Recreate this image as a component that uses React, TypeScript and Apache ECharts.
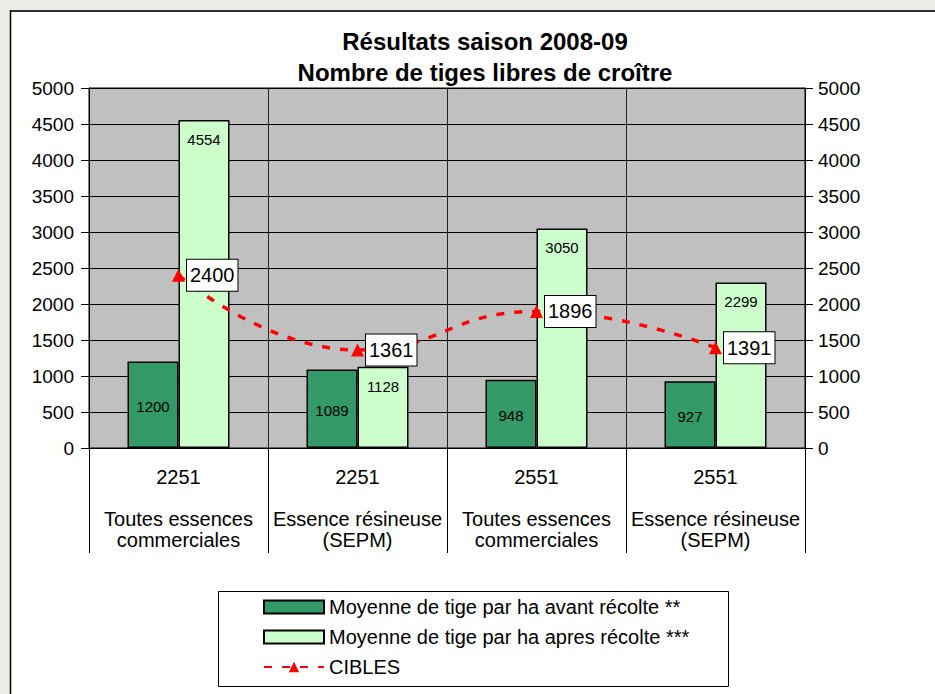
import React, { useEffect, useRef } from "react";
import * as echarts from "echarts";

const categories = [
  "2251\n\nToutes essences\ncommerciales",
  "2251\n\nEssence résineuse\n(SEPM)",
  "2551\n\nToutes essences\ncommerciales",
  "2551\n\nEssence résineuse\n(SEPM)",
];
const avantRecolte = [1200, 1089, 948, 927];
const apresRecolte = [4554, 1128, 3050, 2299];
const cibles = [2400, 1361, 1896, 1391];
const seriesNames = [
  "Moyenne de tige par ha avant récolte **",
  "Moyenne de tige par ha apres récolte ***",
  "CIBLES",
];
const titleLines = ["Résultats saison 2008-09", "Nombre de tiges libres de croître"];

const FONT = "'Liberation Sans', Arial, sans-serif";

export default function App() {
  const ref = useRef<HTMLDivElement>(null);
  useEffect(() => {
    if (!ref.current) return;
    const chart = echarts.init(ref.current, null, { renderer: "svg" });
    const yAxisCommon = {
      type: "value",
      min: 0,
      max: 5000,
      interval: 500,
      axisLine: { show: true, lineStyle: { color: "#000", width: 1 } },
      axisTick: { show: true, length: 8, lineStyle: { color: "#000" } },
    };
    const yLabel = (margin: number) => ({
      color: "#000",
      fontSize: 19,
      fontFamily: FONT,
      margin,
      formatter: (v: number) => String(v),
    });
    chart.setOption({
      animation: false,
      backgroundColor: "#ecebe6",
      textStyle: { fontFamily: FONT },
      title: {
        text: titleLines.join("\n"),
        left: 480,
        textAlign: "center",
        top: 21,
        textStyle: {
          fontSize: 24,
          fontWeight: "bold",
          color: "#000",
          lineHeight: 31,
          fontFamily: FONT,
        },
      },
      graphic: [
        {
          type: "rect",
          shape: { x: 10, y: 10, width: 930, height: 690 },
          style: { fill: "#fff" },
          z: -10,
          silent: true,
        },
        {
          type: "line",
          shape: { x1: 10, y1: 11, x2: 935, y2: 11 },
          style: { stroke: "#333", lineWidth: 2 },
          z: -9,
          silent: true,
        },
        {
          type: "line",
          shape: { x1: 10.5, y1: 10, x2: 10.5, y2: 694 },
          style: { stroke: "#000", lineWidth: 1.5 },
          z: -9,
          silent: true,
        },
        {
          type: "rect",
          shape: { x: 218.5, y: 591.5, width: 510, height: 95 },
          style: { fill: "#fff", stroke: "#000", lineWidth: 1 },
          z: -5,
          silent: true,
        },
      ],
      legend: {
        orient: "vertical",
        left: 263,
        top: 597,
        padding: 0,
        itemWidth: 60,
        itemHeight: 13,
        itemGap: 10,
        textStyle: { fontSize: 20, color: "#000", fontFamily: FONT },
        data: [
          { name: seriesNames[0], icon: "rect" },
          { name: seriesNames[1], icon: "rect" },
          { name: seriesNames[2] },
        ],
      },
      grid: {
        left: 89,
        right: 130,
        top: 88,
        bottom: 246,
        show: true,
        backgroundColor: "#c0c0c0",
        borderColor: "#000",
        borderWidth: 1,
      },
      xAxis: {
        type: "category",
        data: categories,
        boundaryGap: true,
        axisLine: { show: true, lineStyle: { color: "#000", width: 1 } },
        axisTick: { show: true, length: 105, lineStyle: { color: "#000" } },
        splitLine: { show: true, lineStyle: { color: "#222", width: 1 } },
        axisLabel: {
          interval: 0,
          color: "#000",
          fontSize: 20,
          lineHeight: 21,
          margin: 18,
          fontFamily: FONT,
        },
      },
      yAxis: [
        {
          ...yAxisCommon,
          position: "left",
          axisLabel: yLabel(15),
          splitLine: { show: true, lineStyle: { color: "#000", width: 1 } },
        },
        {
          ...yAxisCommon,
          position: "right",
          axisLabel: yLabel(13),
          splitLine: { show: false },
        },
      ],
      series: [
        {
          name: seriesNames[0],
          type: "bar",
          data: avantRecolte,
          barWidth: 51,
          barGap: "0%",
          itemStyle: { color: "#339966", borderColor: "#000", borderWidth: 1.5 },
          label: {
            show: true,
            position: "inside",
            offset: [0, 2],
            color: "#000",
            fontSize: 15,
            fontFamily: FONT,
          },
        },
        {
          name: seriesNames[1],
          type: "bar",
          data: apresRecolte,
          barWidth: 51,
          barGap: "0%",
          itemStyle: { color: "#ccffcc", borderColor: "#000", borderWidth: 1.5 },
          label: {
            show: true,
            position: "insideTop",
            distance: 12,
            color: "#000",
            fontSize: 15,
            fontFamily: FONT,
          },
        },
        {
          name: seriesNames[2],
          type: "line",
          data: cibles,
          smooth: 0.5,
          symbol: "triangle",
          symbolSize: 13,
          z: 5,
          itemStyle: { color: "#ff0000" },
          lineStyle: { color: "#ff0000", width: 3.5, type: [8, 10] },
          label: {
            show: true,
            position: "right",
            distance: 2,
            color: "#000",
            fontSize: 20,
            fontFamily: FONT,
            backgroundColor: "#fff",
            borderColor: "#000",
            borderWidth: 1,
            padding: [6, 3, 5, 3],
          },
        },
      ],
    });
    return () => chart.dispose();
  }, []);
  return (
    <div
      ref={ref}
      style={{ position: "fixed", left: 0, top: 0, width: 935, height: 694 }}
    />
  );
}
